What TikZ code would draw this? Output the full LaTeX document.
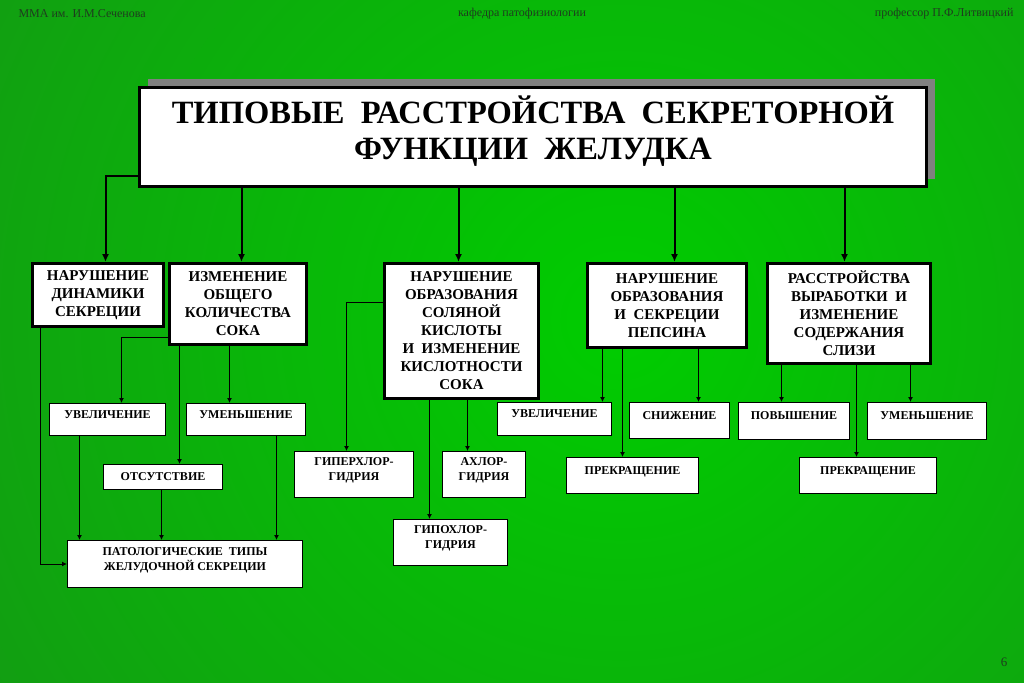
\documentclass[tikz,border=0pt]{standalone}
\usepackage{fontspec}
\setmainfont{Liberation Serif}
\usetikzlibrary{arrows.meta,positioning,calc,shadows}
\definecolor{BgLight}{RGB}{0,205,0}
\definecolor{BgDark}{RGB}{25,140,25}
\definecolor{ShadowGray}{RGB}{128,128,128}
\definecolor{HeadGray}{RGB}{30,62,30}

\tikzset{
  mainbox/.style={draw,line width=3pt,fill=white,align=center,inner sep=0pt,
    anchor=north west,font=\bfseries\fontsize{15}{18}\selectfont},
  subbox/.style={draw,line width=1pt,fill=white,align=center,inner sep=0pt,
    anchor=north west,text depth=10pt,font=\bfseries\fontsize{12}{15}\selectfont},
  trunk/.style={line width=2pt,-{Latex[length=8pt,width=7pt]}},
  twig/.style={line width=1pt,-{Latex[length=5pt,width=5pt]}},
  headtext/.style={font=\fontsize{12}{14}\selectfont,text=HeadGray}
}

\begin{document}
\begin{tikzpicture}[x=1pt,y=-1pt]
  \useasboundingbox (0,0) rectangle (1024,682);
  \begin{scope}
    \clip (0,0) rectangle (1024,682);
    \shade[inner color=BgLight,outer color=BgDark] (620,320) circle (1000);
  \end{scope}

  % header line
  \node[headtext,anchor=west] (inst) at (15,14) {ММА им. И.М.Сеченова};
  \node[headtext] (dept) at (522,14) {кафедра патофизиологии};
  \node[headtext,anchor=east] (prof) at (1017,14) {профессор П.Ф.Литвицкий};
  \node[headtext,font=\fontsize{13}{15}\selectfont] (page) at (1004,662) {6};

  % title
  \node[mainbox,minimum width=787,minimum height=99,text depth=18pt,
    drop shadow={shadow xshift=8pt,shadow yshift=8pt,fill=ShadowGray,opacity=1},
    font=\bfseries\fontsize{32.5}{36}\selectfont] (title) at (138,86)
    {ТИПОВЫЕ\ \ РАССТРОЙСТВА\ \ СЕКРЕТОРНОЙ\\ФУНКЦИИ\ \ ЖЕЛУДКА};

  % first level
  \node[mainbox,minimum width=131,minimum height=63] (dyn) at (31,262)
    {НАРУШЕНИЕ\\ДИНАМИКИ\\СЕКРЕЦИИ};
  \node[mainbox,minimum width=137,minimum height=81] (amount) at (168,262)
    {ИЗМЕНЕНИЕ\\ОБЩЕГО\\КОЛИЧЕСТВА\\СОКА};
  \node[mainbox,minimum width=154,minimum height=135] (hcl) at (383,262)
    {НАРУШЕНИЕ\\ОБРАЗОВАНИЯ\\СОЛЯНОЙ\\КИСЛОТЫ\\И\ \ ИЗМЕНЕНИЕ\\КИСЛОТНОСТИ\\СОКА};
  \node[mainbox,minimum width=159,minimum height=84] (pep) at (586,262)
    {НАРУШЕНИЕ\\ОБРАЗОВАНИЯ\\И\ \ СЕКРЕЦИИ\\ПЕПСИНА};
  \node[mainbox,minimum width=163,minimum height=100] (muc) at (766,262)
    {РАССТРОЙСТВА\\ВЫРАБОТКИ\ \ И\\ИЗМЕНЕНИЕ\\СОДЕРЖАНИЯ\\СЛИЗИ};

  % second level
  \node[subbox,minimum width=116,minimum height=32] (amtUp) at (49,403) {УВЕЛИЧЕНИЕ};
  \node[subbox,minimum width=119,minimum height=32] (amtDown) at (186,403) {УМЕНЬШЕНИЕ};
  \node[subbox,minimum width=119,minimum height=25,text depth=0pt] (amtNone) at (103,464) {ОТСУТСТВИЕ};
  \node[subbox,minimum width=235,minimum height=47] (types) at (67,540)
    {ПАТОЛОГИЧЕСКИЕ\ \ ТИПЫ\\ЖЕЛУДОЧНОЙ СЕКРЕЦИИ};
  \node[subbox,minimum width=119,minimum height=46] (hyper) at (294,451) {ГИПЕРХЛОР-\\ГИДРИЯ};
  \node[subbox,minimum width=83,minimum height=46] (achl) at (442,451) {АХЛОР-\\ГИДРИЯ};
  \node[subbox,minimum width=114,minimum height=46] (hypo) at (393,519) {ГИПОХЛОР-\\ГИДРИЯ};
  \node[subbox,minimum width=114,minimum height=33] (pepUp) at (497,402) {УВЕЛИЧЕНИЕ};
  \node[subbox,minimum width=100,minimum height=36] (pepDown) at (629,402) {СНИЖЕНИЕ};
  \node[subbox,minimum width=132,minimum height=36] (pepStop) at (566,457) {ПРЕКРАЩЕНИЕ};
  \node[subbox,minimum width=111,minimum height=37] (mucUp) at (738,402) {ПОВЫШЕНИЕ};
  \node[subbox,minimum width=119,minimum height=37] (mucDown) at (867,402) {УМЕНЬШЕНИЕ};
  \node[subbox,minimum width=137,minimum height=36] (mucStop) at (799,457) {ПРЕКРАЩЕНИЕ};

  % title to first level
  \draw[trunk] ([yshift=12pt]title.south west) -| ([xshift=7.5pt]dyn.north);
  \foreach \nd/\dx in {amount/3.5,hcl/-3,pep/7.5,muc/-4.5}{
    \path ([xshift=\dx pt]\nd.north) coordinate (tip);
    \draw[trunk] (title.south -| tip) -- (tip);
  }

  % first level to second level
  \foreach \src/\nd/\dx in {amount/amtNone/16.5,amount/amtDown/-16.5,hcl/hypo/-21,
      hcl/achl/-16.5,pep/pepUp/48,pep/pepStop/-10,pep/pepDown/19,
      muc/mucUp/-12.5,muc/mucStop/-11.5,muc/mucDown/-16.5}{
    \path ([xshift=\dx pt]\nd.north) coordinate (tip);
    \draw[twig] (\src.south -| tip) -- (tip);
  }
  \draw[twig] ([yshift=9pt]amount.south west) -| ([xshift=14pt]amtUp.north);
  \draw[twig] ([yshift=-40pt]hcl.north west) -| ([xshift=-7.5pt]hyper.north);

  % into the types box
  \foreach \src/\dx in {amtUp/-28,amtNone/-1.5,amtDown/30.5}{
    \path ([xshift=\dx pt]\src.south) coordinate (tail);
    \draw[twig] (tail) -- (types.north -| tail);
  }
  \draw[twig] ([xshift=-57.5pt]dyn.south) |- (types.west);
\end{tikzpicture}
\end{document}
